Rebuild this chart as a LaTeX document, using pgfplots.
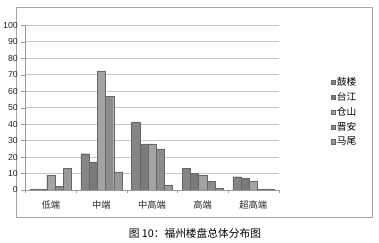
\documentclass[border=0pt]{standalone}
\usepackage{pgfplots}
\pgfplotsset{compat=1.18}
\usepackage{fontspec}
\newfontfamily\cjk{Noto Sans CJK SC}
\setmainfont{Liberation Sans}
\definecolor{cA}{HTML}{858585}
\definecolor{cB}{HTML}{7A7A7A}
\definecolor{cC}{HTML}{A3A3A3}
\definecolor{cD}{HTML}{8C8C8C}
\definecolor{cE}{HTML}{999999}
\begin{document}
\begin{tikzpicture}[x=1pt,y=1pt]
\path (-42,-54) rectangle (337,195);
\draw[gray!70, line width=0.6pt] (-35,-28) rectangle (330,188);
\begin{axis}[
  at={(0,0)}, anchor=origin,
  scale only axis, width=260pt, height=169pt,
  ybar=0pt, bar width=8.4pt,
  xmin=-0.5, xmax=4.5, ymin=0, ymax=100,
  ytick={0,10,...,100},
  xtick={0,1,2,3,4},
  xticklabels={{\cjk 低端},{\cjk 中端},{\cjk 中高端},{\cjk 高端},{\cjk 超高端}},
  minor xtick={-0.5,0.5,1.5,2.5,3.5,4.5},
  major x tick style={draw=none},
  minor tick length=3pt,
  tick align=outside,
  axis x line*=bottom, axis y line*=left,
  axis line style={gray!80},
  tick style={gray!80},
  ymajorgrids, grid style={gray!45, line width=0.6pt},
  tick label style={font=\fontsize{9}{10}\selectfont, text=black!85},
  xticklabel style={yshift=-3pt, font=\fontsize{9.5}{11}\selectfont},
  /pgf/number format/assume math mode=true,
  legend style={at={(310pt,120pt)}, anchor=north west, draw=none, fill=none,
    font=\fontsize{10}{12}\selectfont\cjk, row sep=1.5pt,
    nodes={inner xsep=1.5pt}},
  legend cell align=left,
  legend image code/.code={\fill[#1] (0pt,-2.3pt) rectangle (4.6pt,2.3pt);},
]
\addplot[fill=cA, draw=black!60] coordinates {(0,0.5) (1,22) (2,41) (3,13) (4,8)};
\addplot[fill=cB, draw=black!60] coordinates {(0,0.5) (1,17) (2,28) (3,10) (4,7)};
\addplot[fill=cC, draw=black!60] coordinates {(0,9) (1,72) (2,28) (3,9) (4,5)};
\addplot[fill=cD, draw=black!60] coordinates {(0,2) (1,57) (2,25) (3,5) (4,0.3)};
\addplot[fill=cE, draw=black!60] coordinates {(0,13) (1,11) (2,3) (3,1) (4,0.3)};
\legend{鼓楼,台江,仓山,晋安,马尾}
\end{axis}
\node[font=\fontsize{11}{13}\selectfont\cjk] at (148,-45) {图 10：福州楼盘总体分布图};
\end{tikzpicture}
\end{document}
